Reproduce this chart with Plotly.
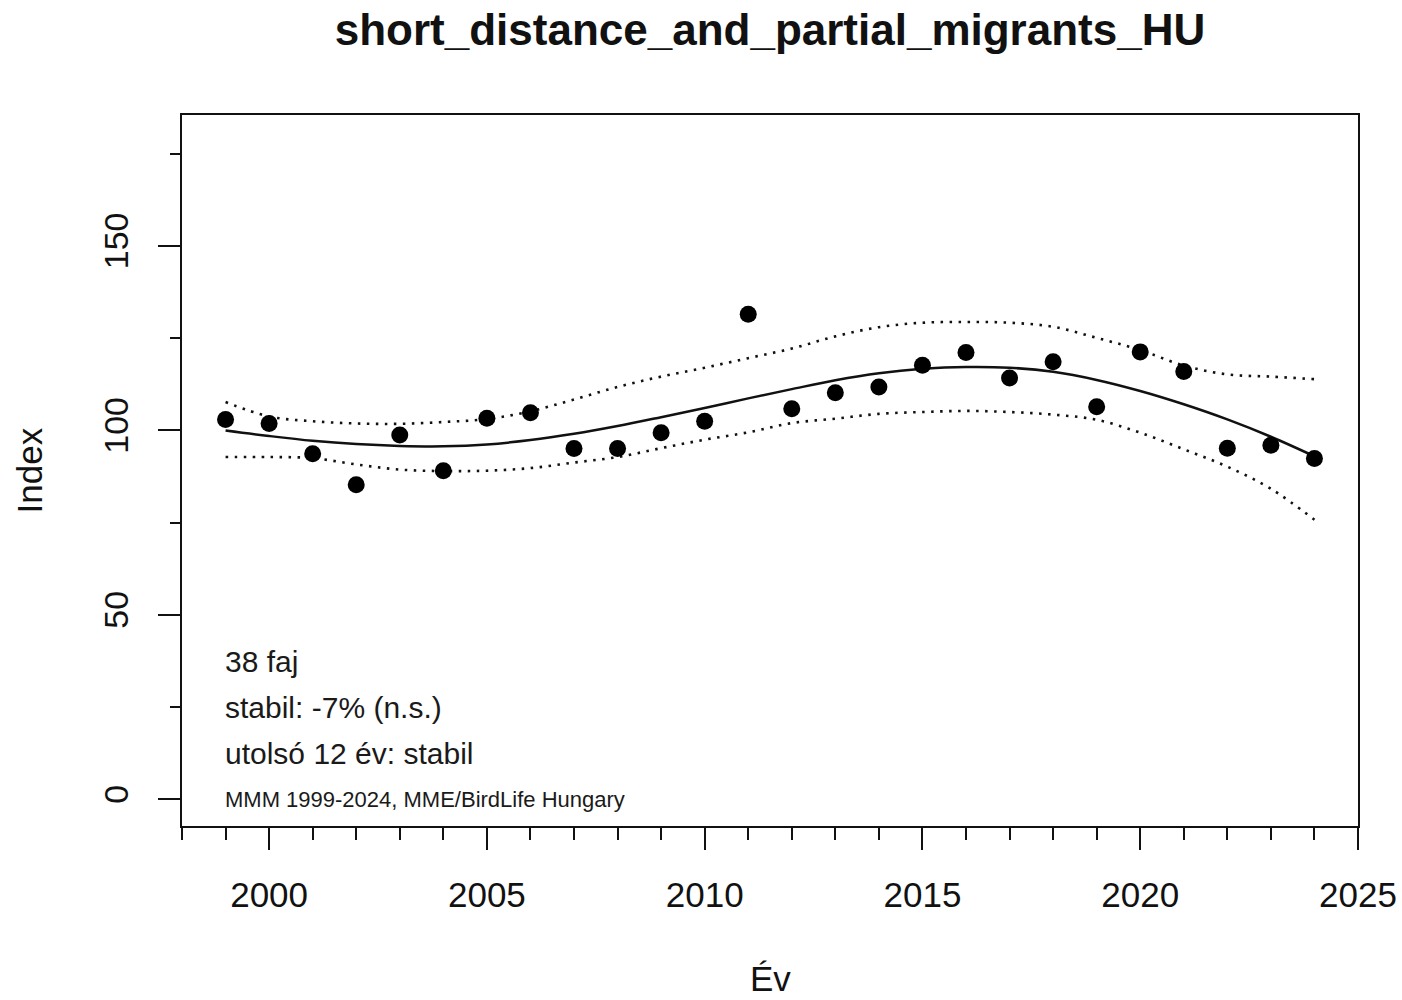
import plotly.graph_objects as go

# Survey years and the multi-species index
years = list(range(1999, 2025))
index_values = [103.0, 101.9, 93.7, 85.3, 98.8, 89.1, 103.3, 104.8, 95.1, 95.1,
                99.4, 102.5, 131.5, 105.9, 110.2, 111.8, 117.7, 121.1, 114.2, 118.6,
                106.4, 121.3, 116.0, 95.2, 96.0, 92.4]

# Smoothed trend with its confidence band
trend = [100.0, 98.5, 97.2, 96.3, 95.8, 95.7, 96.2, 97.4, 99.1, 101.2,
         103.6, 106.1, 108.7, 111.2, 113.6, 115.5, 116.7, 117.2, 117.0, 115.9,
         113.7, 110.7, 107.1, 103.0, 98.3, 93.0]
upper = [107.7, 103.8, 102.5, 101.9, 101.8, 102.3, 103.1, 105.2, 108.4, 111.8,
         114.6, 117.0, 119.6, 122.2, 125.5, 128.0, 129.2, 129.4, 129.2, 128.1,
         125.1, 121.8, 117.6, 115.2, 114.6, 113.9]
lower = [92.8, 92.8, 92.5, 90.8, 89.4, 89.0, 89.1, 89.8, 91.3, 92.8,
         95.2, 97.5, 99.5, 102.0, 103.2, 104.5, 105.0, 105.3, 105.0, 104.3,
         102.9, 99.4, 94.9, 90.2, 84.2, 75.8]

# Text block in the lower-left corner
info_lines = ["38 faj", "stabil: -7% (n.s.)", "utolsó 12 év: stabil"]
info_y = [37.5, 25, 12.5]
source_text = "MMM 1999-2024, MME/BirdLife Hungary"

title_text = "short_distance_and_partial_migrants_HU"
x_title = "Év"
y_title = "Index"

FONT = "Liberation Sans, Arial, sans-serif"
INK = "#111111"

fig = go.Figure()

for band in (upper, lower):
    fig.add_trace(go.Scatter(
        x=years, y=band, mode="lines",
        line=dict(color=INK, width=2.6, dash="2.5px,6.5px", shape="spline"),
        hoverinfo="skip", showlegend=False))

fig.add_trace(go.Scatter(
    x=years, y=trend, mode="lines",
    line=dict(color=INK, width=2.5, shape="spline"),
    showlegend=False))

fig.add_trace(go.Scatter(
    x=years, y=index_values, mode="markers",
    marker=dict(color="black", size=17, line=dict(width=0)),
    showlegend=False))

for txt, yv in zip(info_lines, info_y):
    fig.add_annotation(x=1999, y=yv, xref="x", yref="y", text=txt,
                       showarrow=False, xanchor="left", yanchor="middle", xshift=-3,
                       font=dict(family=FONT, size=30, color="#1a1a1a"))
fig.add_annotation(x=1999, y=0, xref="x", yref="y", text=source_text,
                   showarrow=False, xanchor="left", yanchor="middle", xshift=-3,
                   font=dict(family=FONT, size=22, color="#1a1a1a"))

# Axis titles
fig.add_annotation(x=0.5, y=-0.2138, xref="paper", yref="paper", text=x_title,
                   showarrow=False, xanchor="center", yanchor="middle",
                   font=dict(family=FONT, size=35, color=INK))
fig.add_annotation(x=-0.1293, y=0.5, xref="paper", yref="paper", text=y_title,
                   showarrow=False, textangle=-90, xanchor="center", yanchor="middle",
                   font=dict(family=FONT, size=35, color=INK))

fig.update_layout(
    width=1402, height=1000,
    margin=dict(l=182, r=44, t=115, b=174),
    paper_bgcolor="white", plot_bgcolor="white",
    title=dict(text=f"<b>{title_text}</b>", x=0.5, xref="paper",
               y=0.97, yref="container", yanchor="middle", xanchor="center",
               font=dict(family=FONT, size=44, color=INK)),
    font=dict(family=FONT, color=INK),
)

fig.update_xaxes(
    range=[1998, 2025], tickmode="linear", tick0=2000, dtick=5,
    ticks="outside", ticklen=22, tickwidth=2, tickcolor=INK,
    minor=dict(tickmode="linear", tick0=1998, dtick=1, ticks="outside",
               ticklen=12, tickwidth=2, tickcolor=INK, showgrid=False),
    showline=True, linecolor=INK, linewidth=2, mirror=True,
    showgrid=False, zeroline=False, automargin=False,
    ticklabelstandoff=15,
    tickfont=dict(family=FONT, size=35, color=INK),
)
fig.update_yaxes(
    range=[-7.2, 185.5], tickmode="linear", tick0=0, dtick=50,
    ticks="outside", ticklen=22, tickwidth=2, tickcolor=INK,
    minor=dict(tickmode="linear", tick0=0, dtick=25, ticks="outside",
               ticklen=10, tickwidth=2, tickcolor=INK, showgrid=False),
    showline=True, linecolor=INK, linewidth=2, mirror=True,
    showgrid=False, zeroline=False, automargin=False,
    tickangle=-90, ticklabelstandoff=16,
    tickfont=dict(family=FONT, size=34, color=INK),
)

fig.write_html("out.html")
